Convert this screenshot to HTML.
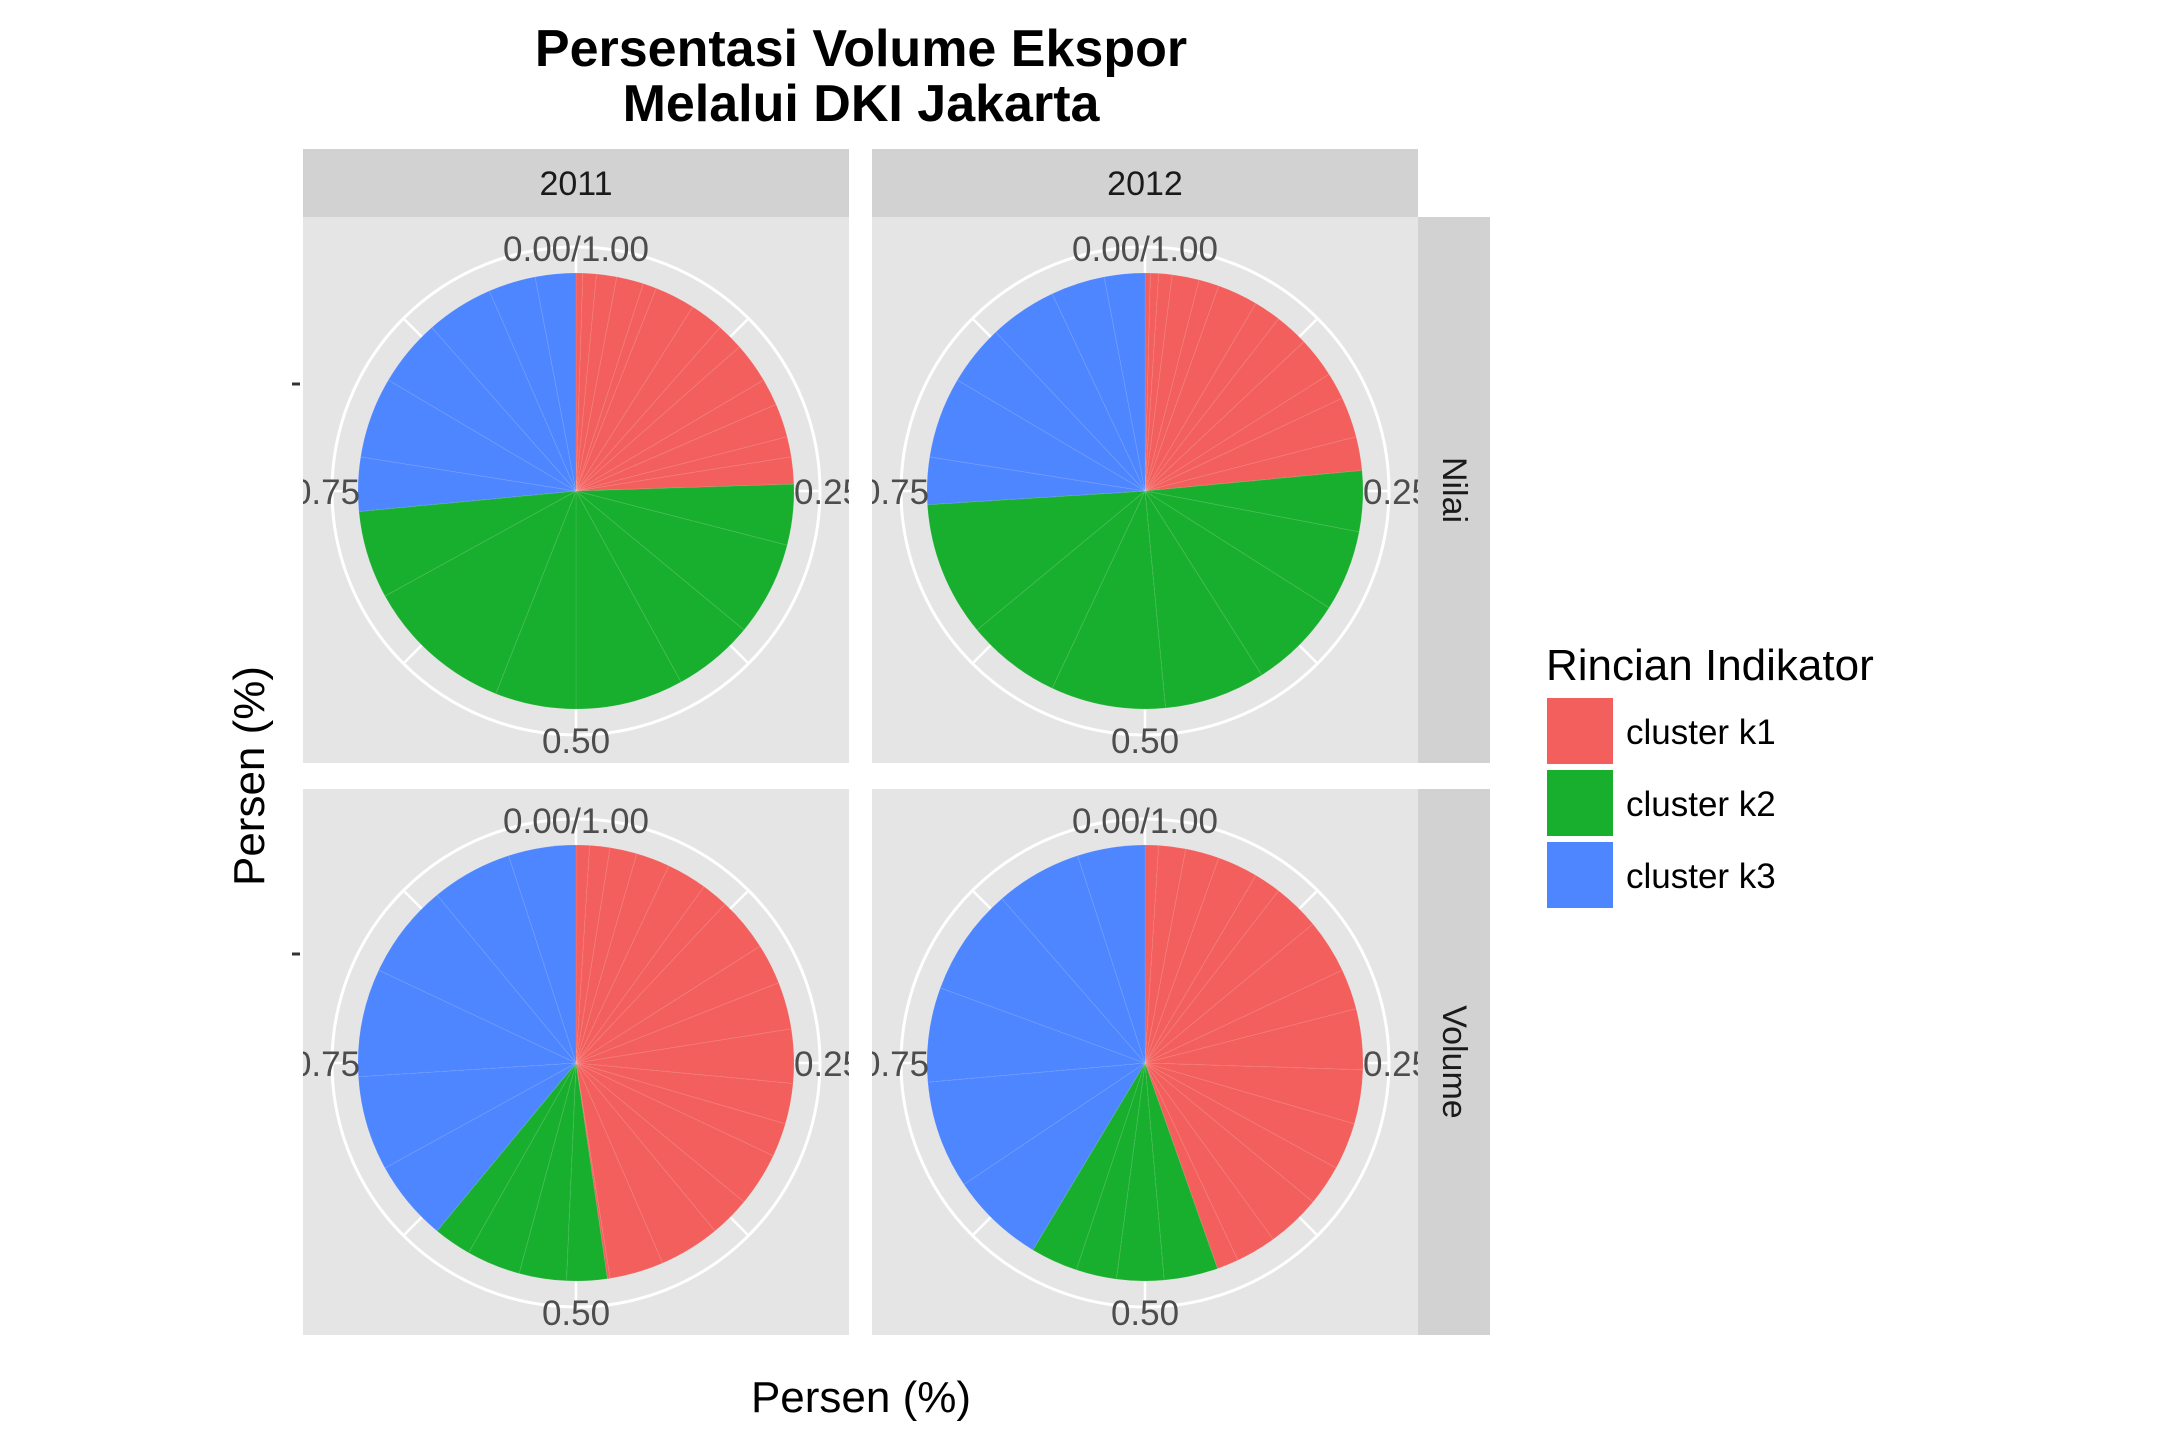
<!DOCTYPE html>
<html><head><meta charset="utf-8"><style>
html,body{margin:0;padding:0;background:#fff;}
svg{display:block;font-family:"Liberation Sans",Arial,sans-serif;}
</style></head><body>
<svg id="chart" width="2160" height="1440" viewBox="0 0 2160 1440">
<text x="861" y="66" text-anchor="middle" font-size="52" font-weight="bold" fill="#000">Persentasi Volume Ekspor</text>
<text x="861" y="121" text-anchor="middle" font-size="52" font-weight="bold" fill="#000">Melalui DKI Jakarta</text>
<text x="861" y="1412" text-anchor="middle" font-size="44" fill="#000">Persen (%)</text>
<text transform="translate(264,776) rotate(-90)" text-anchor="middle" font-size="44" fill="#000">Persen (%)</text>
<line x1="292" y1="384" x2="300" y2="384" stroke="#333" stroke-width="3"/>
<line x1="292" y1="954" x2="300" y2="954" stroke="#333" stroke-width="3"/>
<g>
<text x="1546" y="680" font-size="44" fill="#000">Rincian Indikator</text>
<rect x="1547" y="698" width="66" height="66" fill="#F35F5C"/>
<text x="1626" y="744" font-size="35" fill="#000">cluster k1</text>
<rect x="1547" y="770" width="66" height="66" fill="#19AF2E"/>
<text x="1626" y="816" font-size="35" fill="#000">cluster k2</text>
<rect x="1547" y="842" width="66" height="66" fill="#4E86FF"/>
<text x="1626" y="888" font-size="35" fill="#000">cluster k3</text>
</g>
<g id="panels"></g>
</svg>
<script>
const years = ["2011","2012"];
const rows = ["Nilai","Volume"];
const clusters = ["cluster k1","cluster k2","cluster k3"];
const colors = ["#F35F5C","#19AF2E","#4E86FF"];
const ticks = [0, 0.25, 0.5, 0.75];
const tickLabels = ["0.00/1.00","0.25","0.50","0.75"];
const nilai2011K1 = [0.005,0.01,0.015,0.02,0.01,0.03,0.025,0.02,0.03,0.02,0.025,0.015,0.02];
const nilai2011K2 = [0.045,0.07,0.06,0.08,0.06,0.11,0.065];
const nilai2011K3 = [0.04,0.06,0.05,0.05,0.035,0.03];
const nilai2012K1 = [0.004,0.006,0.01,0.02,0.015,0.03,0.02,0.025,0.03,0.02,0.03,0.025];
const nilai2012K2 = [0.045,0.06,0.07,0.075,0.085,0.07,0.1];
const nilai2012K3 = [0.035,0.06,0.045,0.05,0.04,0.03];
const volume2011K1 = [0.01,0.015,0.02,0.025,0.03,0.02,0.04,0.03,0.035,0.04,0.03,0.025,0.04,0.03,0.045,0.04,0.002];
const volume2011K2 = [0.03,0.035,0.04,0.028];
const volume2011K3 = [0.06,0.07,0.08,0.07,0.06,0.05];
const volume2012K1 = [0.01,0.02,0.025,0.03,0.02,0.035,0.04,0.03,0.045,0.04,0.035,0.03,0.04,0.03,0.016];
const volume2012K2 = [0.04,0.035,0.03,0.035];
const volume2012K3 = [0.07,0.08,0.07,0.08,0.064,0.05];

const panelData = [
  [[nilai2011K1,nilai2011K2,nilai2011K3],[nilai2012K1,nilai2012K2,nilai2012K3]],
  [[volume2011K1,volume2011K2,volume2011K3],[volume2012K1,volume2012K2,volume2012K3]]
];
const NS="http://www.w3.org/2000/svg";
const root=document.getElementById('panels');
const panelX=[303,872], panelW=546, panelY=[217,789], panelH=546, R=218, RING=244;
function mk(tag,attrs,parent){const e=document.createElementNS(NS,tag);for(const k in attrs)e.setAttribute(k,attrs[k]);parent.appendChild(e);return e;}
function pt(cx,cy,r,f){const a=f*2*Math.PI;return [cx+r*Math.sin(a),cy-r*Math.cos(a)];}
years.forEach((y,c)=>{
  const s=mk('rect',{x:panelX[c],y:149,width:panelW,height:68,fill:'#D2D2D2'},root);
  
  
  const t=mk('text',{x:panelX[c]+panelW/2,y:195,'text-anchor':'middle','font-size':34,fill:'#1a1a1a'},root);
  t.textContent=y;
  
  
});
rows.forEach((rw,r)=>{
  const s=mk('rect',{x:panelX[1]+panelW,y:panelY[r],width:72,height:panelH,fill:'#D2D2D2'},root);
  
  
  const t=mk('text',{transform:`translate(1443,${panelY[r]+panelH/2}) rotate(90)`,'text-anchor':'middle','font-size':34,fill:'#1a1a1a'},root);
  t.textContent=rw;
  
  
});
rows.forEach((rw,r)=>{years.forEach((y,c)=>{
  const g=mk('g',{},root);
  
  
  const cid='clip'+r+c;
  const cp=mk('clipPath',{id:cid},g);
  mk('rect',{x:panelX[c],y:panelY[r],width:panelW,height:panelH},cp);
  const bg=mk('rect',{x:panelX[c],y:panelY[r],width:panelW,height:panelH,fill:'#E5E5E5'},g);
  
  
  const cx=panelX[c]+panelW/2, cy=panelY[r]+274;
  const inner=mk('g',{'clip-path':`url(#${cid})`},g);
  for(let k=0;k<8;k++){const p=pt(cx,cy,RING,k/8);
    const l=mk('line',{x1:cx,y1:cy,x2:p[0],y2:p[1],stroke:'#fff','stroke-width':2.5},inner);
    
    }
  const ring=mk('circle',{cx:cx,cy:cy,r:RING,fill:'none',stroke:'#fff','stroke-width':3},inner);
  
  
  const data=panelData[r][c];
  let total=0; data.forEach(a=>a.forEach(v=>total+=v));
  let cum=0;
  data.forEach((arr,ci)=>{arr.forEach((v,i)=>{
    const f0=cum/total, f1=(cum+v)/total; cum+=v;
    const p0=pt(cx,cy,R,f0), p1=pt(cx,cy,R,f1);
    const large=(f1-f0)>0.5?1:0;
    const path=mk('path',{d:`M${cx},${cy}L${p0[0]},${p0[1]}A${R},${R} 0 ${large} 1 ${p1[0]},${p1[1]}Z`,fill:colors[ci],stroke:'rgba(255,255,255,0.08)','stroke-width':1},inner);
    
    
  });});
  ticks.forEach((t,i)=>{const p=pt(cx,cy,RING+6,t);
    let yy=p[1]+13, xx=p[0];
    if(t===0) yy=cy-243+13;
    if(t===0.5) yy=cy+249+13;
    if(t===0.25) xx=p[0]+2;
    const tx=mk('text',{x:xx,y:yy,'text-anchor':'middle','font-size':35,fill:'#4D4D4D'},inner);
    tx.textContent=tickLabels[i];
    
    
  });
});});
</script>
</body></html>
